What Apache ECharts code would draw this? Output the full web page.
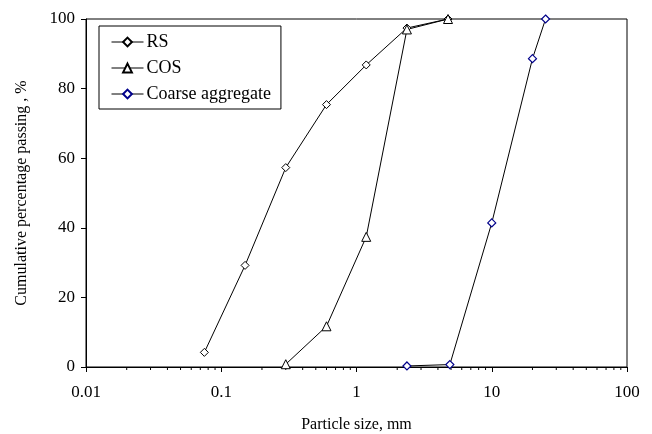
<!DOCTYPE html>
<html><head><meta charset="utf-8">
<script src="https://cdn.jsdelivr.net/npm/echarts@6/dist/echarts.min.js"></script>
<style>html,body{margin:0;padding:0;background:#fff}#c{width:652px;height:434px}</style>
</head><body><div id="c"></div>
<script>
const rsX = [0.075, 0.15, 0.3, 0.6, 1.18, 2.36, 4.75];
const rsY = [4.2, 29.2, 57.3, 75.4, 86.8, 97.4, 100];
const cosX = [0.3, 0.6, 1.18, 2.36, 4.75];
const cosY = [0.8, 11.7, 37.4, 97.0, 100];
const caX = [2.36, 4.9, 10, 20, 25];
const caY = [0.3, 0.7, 41.4, 88.6, 100];
const xMinorTicks = [0.02,0.03,0.04,0.05,0.06,0.07,0.08,0.09,0.2,0.3,0.4,0.5,0.6,0.7,0.8,0.9,2,3,4,5,6,7,8,9,20,30,40,50,60,70,80,90];
const seriesNames = ['RS', 'COS', 'Coarse aggregate'];

const font = 'Liberation Serif';
const pair = (xs, ys) => xs.map((x, i) => [x, ys[i]]);
const chart = echarts.init(document.getElementById('c'));
chart.setOption({
  animation: false,
  textStyle: {fontFamily: font, color: '#000'},
  grid: {left: 86, right: 25, top: 19, bottom: 67, show: true, borderColor: '#000', borderWidth: 1,
         containLabel: false, outerBoundsMode: 'none'},
  legend: {
    orient: 'vertical', left: 99, top: 26, itemGap: 8, itemWidth: 32, itemHeight: 11,
    borderColor: '#000', borderWidth: 1, padding: [7, 10, 6, 12], backgroundColor: '#fff',
    textStyle: {fontFamily: font, fontSize: 18, color: '#000', padding: [0, 0, 0, -2]},
    lineStyle: {width: 1},
    data: seriesNames
  },
  xAxis: {
    type: 'log', logBase: 10, min: 0.01, max: 100,
    name: 'Particle size, mm', nameLocation: 'middle', nameGap: 50,
    nameTextStyle: {fontFamily: font, fontSize: 16, color: '#000'},
    axisLine: {lineStyle: {color: '#000', width: 1}},
    axisTick: {inside: false, length: 5, lineStyle: {color: '#000'}},
    axisLabel: {fontFamily: font, fontSize: 17, color: '#000', margin: 17,
      formatter: v => String(v)},
    splitLine: {show: false}
  },
  yAxis: {
    type: 'value', min: 0, max: 100, interval: 20,
    name: 'Cumulative percentage passing , %', nameLocation: 'middle', nameGap: 56,
    nameTextStyle: {fontFamily: font, fontSize: 16, color: '#000'},
    axisLine: {show: true, lineStyle: {color: '#000', width: 1}},
    axisTick: {show: true, inside: false, length: 5, lineStyle: {color: '#000'}},
    axisLabel: {fontFamily: font, fontSize: 17, color: '#000', margin: 11},
    splitLine: {show: false}
  },
  series: [
    {name: 'RS', type: 'line', data: pair(rsX, rsY), symbol: 'diamond', symbolSize: 8,
     lineStyle: {color: '#000', width: 1}, itemStyle: {color: '#fff', borderColor: '#000', borderWidth: 1}, z: 3},
    {name: 'COS', type: 'line', data: pair(cosX, cosY), symbol: 'triangle', symbolSize: 9,
     lineStyle: {color: '#000', width: 1}, itemStyle: {color: '#fff', borderColor: '#000', borderWidth: 1}, z: 3},
    {name: 'Coarse aggregate', type: 'line', data: pair(caX, caY), symbol: 'diamond', symbolSize: 8,
     lineStyle: {color: '#000', width: 1}, itemStyle: {color: '#fff', borderColor: '#00008b', borderWidth: 1.2}, z: 3},
    {type: 'custom', silent: true, clip: false, z: 2, data: xMinorTicks.map(v => [v, 0]),
     renderItem: (params, api) => {
       const p = api.coord([api.value(0), 0]);
       return {type: 'line', shape: {x1: p[0], y1: p[1], x2: p[0], y2: p[1] + 3},
               style: {stroke: '#000', lineWidth: 1}};
     }}
  ]
});
</script></body></html>
